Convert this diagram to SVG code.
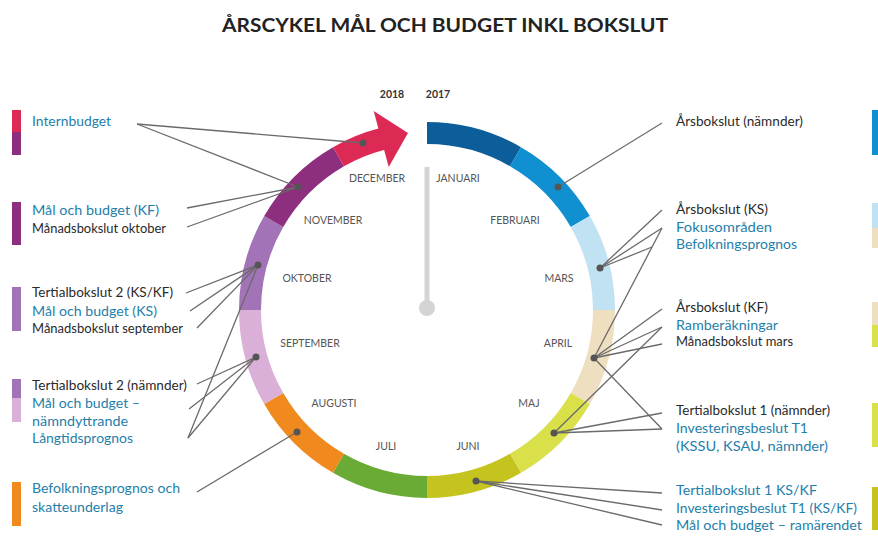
<svg xmlns="http://www.w3.org/2000/svg" width="878" height="538" viewBox="0 0 878 538">
<style>
.seg{fill:none;stroke-width:22}
.mon{font-family:Lato,"Open Sans","Liberation Sans",sans-serif;font-size:10.5px;fill:#555;text-anchor:middle}
.lbl{font-family:Lato,"Open Sans","Liberation Sans",sans-serif;font-size:13px}
.k{fill:#2a2a2a}
.b{fill:#1f80aa}
.yr{font-family:Lato,"Open Sans","Liberation Sans",sans-serif;font-size:10.5px;font-weight:700;fill:#333;text-anchor:middle}
#connectors line{stroke:#6a6a6a;stroke-width:1.3}
.dot{fill:#555}
</style>
<rect width="878" height="538" fill="#fff"/>
<text x="445" y="32" font-family="Lato,'Open Sans','Liberation Sans',sans-serif" font-size="18" font-weight="700" fill="#222" text-anchor="middle" textLength="446" lengthAdjust="spacingAndGlyphs">ÅRSCYKEL MÅL OCH BUDGET INKL BOKSLUT</text>
<text class="yr" x="392" y="98">2018</text>
<text class="yr" x="438" y="98">2017</text>
<g id="pointer">
<rect x="424.5" y="167" width="5" height="140" fill="#d4d4d4"/>
<circle cx="427" cy="308" r="8" fill="#d4d4d4"/>
</g>
<g id="month-jan"><path class="seg" stroke="#0b5e9a" d="M427,133 A177,177 0 0 1 515.5,156.7"/><text class="mon" x="458" y="182">JANUARI</text></g>
<g id="month-feb"><path class="seg" stroke="#1090d0" d="M515.5,156.7 A177,177 0 0 1 580.3,221.5"/><text class="mon" x="515" y="224">FEBRUARI</text></g>
<g id="month-mar"><path class="seg" stroke="#c0e2f2" d="M580.3,221.5 A177,177 0 0 1 604,310"/><text class="mon" x="559" y="282">MARS</text></g>
<g id="month-apr"><path class="seg" stroke="#eedfc0" d="M604,310 A177,177 0 0 1 580.3,398.5"/><text class="mon" x="558" y="347">APRIL</text></g>
<g id="month-maj"><path class="seg" stroke="#d9e04a" d="M580.3,398.5 A177,177 0 0 1 515.5,463.3"/><text class="mon" x="529" y="407">MAJ</text></g>
<g id="month-jun"><path class="seg" stroke="#c5c41f" d="M515.5,463.3 A177,177 0 0 1 427,487"/><text class="mon" x="468" y="450">JUNI</text></g>
<g id="month-jul"><path class="seg" stroke="#6aab35" d="M427,487 A177,177 0 0 1 338.5,463.3"/><text class="mon" x="386" y="450">JULI</text></g>
<g id="month-aug"><path class="seg" stroke="#f08a1f" d="M338.5,463.3 A177,177 0 0 1 273.7,398.5"/><text class="mon" x="334" y="407">AUGUSTI</text></g>
<g id="month-sep"><path class="seg" stroke="#dbb0d8" d="M273.7,398.5 A177,177 0 0 1 250,310"/><text class="mon" x="310" y="347">SEPTEMBER</text></g>
<g id="month-okt"><path class="seg" stroke="#a373b8" d="M250,310 A177,177 0 0 1 273.7,221.5"/><text class="mon" x="307" y="282">OKTOBER</text></g>
<g id="month-nov"><path class="seg" stroke="#8d2f7e" d="M273.7,221.5 A177,177 0 0 1 338.5,156.7"/><text class="mon" x="333" y="224">NOVEMBER</text></g>
<g id="month-dec"><path class="seg" stroke="#dc2a55" d="M338.5,156.7 A177,177 0 0 1 382,139"/><polygon points="373.7,111 408,133 388.7,167" fill="#dc2a55"/><text class="mon" x="377" y="182">DECEMBER</text></g>
<g id="connectors">
<line x1="137" y1="124" x2="363" y2="143"/>
<line x1="137" y1="124" x2="298" y2="187"/>
<line x1="187" y1="208" x2="298" y2="187"/>
<line x1="187" y1="227" x2="298" y2="187"/>
<line x1="186" y1="293" x2="258" y2="265"/>
<line x1="190" y1="311" x2="258" y2="265"/>
<line x1="197" y1="328" x2="258" y2="265"/>
<line x1="188" y1="438" x2="258" y2="265"/>
<line x1="197" y1="384" x2="256" y2="357"/>
<line x1="189" y1="409" x2="256" y2="357"/>
<line x1="188" y1="438" x2="256" y2="357"/>
<line x1="197" y1="492" x2="297" y2="432"/>
<line x1="662" y1="123" x2="558" y2="187"/>
<line x1="662" y1="210" x2="600" y2="268"/>
<line x1="662" y1="228" x2="600" y2="268"/>
<line x1="652" y1="247" x2="600" y2="268"/>
<line x1="662" y1="228" x2="594" y2="358"/>
<line x1="662" y1="309" x2="594" y2="358"/>
<line x1="662" y1="327" x2="594" y2="358"/>
<line x1="662" y1="344" x2="594" y2="358"/>
<line x1="662" y1="429" x2="594" y2="358"/>
<line x1="662" y1="327" x2="554" y2="433"/>
<line x1="662" y1="413" x2="554" y2="433"/>
<line x1="662" y1="429" x2="554" y2="433"/>
<line x1="662" y1="493" x2="476" y2="481"/>
<line x1="662" y1="510" x2="476" y2="481"/>
<line x1="662" y1="525" x2="476" y2="481"/>
<circle class="dot" cx="363" cy="143" r="3.5"/>
<circle class="dot" cx="298" cy="187" r="3.5"/>
<circle class="dot" cx="258" cy="265" r="3.5"/>
<circle class="dot" cx="256" cy="357" r="3.5"/>
<circle class="dot" cx="297" cy="432" r="3.5"/>
<circle class="dot" cx="476" cy="481" r="3.5"/>
<circle class="dot" cx="554" cy="433" r="3.5"/>
<circle class="dot" cx="594" cy="358" r="3.5"/>
<circle class="dot" cx="600" cy="268" r="3.5"/>
<circle class="dot" cx="558" cy="187" r="3.5"/>
</g>
<g id="note-internbudget">
<rect x="12" y="110" width="9" height="22" fill="#dc2a55"/><rect x="12" y="132" width="9" height="23" fill="#8d2f7e"/>
<text class="lbl b" x="32" y="126" textLength="79" lengthAdjust="spacingAndGlyphs">Internbudget</text>
</g>
<g id="note-november">
<rect x="12" y="202" width="9" height="43" fill="#8d2f7e"/>
<text class="lbl b" x="32" y="215" textLength="127" lengthAdjust="spacingAndGlyphs">Mål och budget (KF)</text>
<text class="lbl k" x="32" y="233" textLength="134" lengthAdjust="spacingAndGlyphs">Månadsbokslut oktober</text>
</g>
<g id="note-oktober">
<rect x="12" y="287" width="9" height="44" fill="#a373b8"/>
<text class="lbl k" x="32" y="297" textLength="141" lengthAdjust="spacingAndGlyphs">Tertialbokslut 2 (KS/KF)</text>
<text class="lbl b" x="32" y="316" textLength="125" lengthAdjust="spacingAndGlyphs">Mål och budget (KS)</text>
<text class="lbl k" x="32" y="333" textLength="151" lengthAdjust="spacingAndGlyphs">Månadsbokslut september</text>
</g>
<g id="note-september">
<rect x="12" y="379" width="9" height="19" fill="#a373b8"/><rect x="12" y="398" width="9" height="24" fill="#dbb0d8"/>
<text class="lbl k" x="32" y="390" textLength="155" lengthAdjust="spacingAndGlyphs">Tertialbokslut 2 (nämnder)</text>
<text class="lbl b" x="32" y="408" textLength="108" lengthAdjust="spacingAndGlyphs">Mål och budget –</text>
<text class="lbl b" x="32" y="426" textLength="96" lengthAdjust="spacingAndGlyphs">nämndyttrande</text>
<text class="lbl b" x="32" y="443" textLength="101" lengthAdjust="spacingAndGlyphs">Långtidsprognos</text>
</g>
<g id="note-augusti">
<rect x="12" y="482" width="9" height="44" fill="#f08a1f"/>
<text class="lbl b" x="32" y="493" textLength="148" lengthAdjust="spacingAndGlyphs">Befolkningsprognos och</text>
<text class="lbl b" x="32" y="512" textLength="91" lengthAdjust="spacingAndGlyphs">skatteunderlag</text>
</g>
<g id="note-januari">
<rect x="872" y="110" width="10" height="45" fill="#1090d0"/>
<text class="lbl k" x="676" y="126" textLength="127" lengthAdjust="spacingAndGlyphs">Årsbokslut (nämnder)</text>
</g>
<g id="note-mars">
<rect x="872" y="203" width="10" height="25" fill="#c0e2f2"/><rect x="872" y="228" width="10" height="20" fill="#eedfc0"/>
<text class="lbl k" x="676" y="214" textLength="92" lengthAdjust="spacingAndGlyphs">Årsbokslut (KS)</text>
<text class="lbl b" x="676" y="232" textLength="96" lengthAdjust="spacingAndGlyphs">Fokusområden</text>
<text class="lbl b" x="676" y="249" textLength="121" lengthAdjust="spacingAndGlyphs">Befolkningsprognos</text>
</g>
<g id="note-april">
<rect x="872" y="302" width="10" height="23" fill="#eedfc0"/><rect x="872" y="325" width="10" height="22" fill="#d9e04a"/>
<text class="lbl k" x="676" y="312" textLength="92" lengthAdjust="spacingAndGlyphs">Årsbokslut (KF)</text>
<text class="lbl b" x="676" y="330" textLength="102" lengthAdjust="spacingAndGlyphs">Ramberäkningar</text>
<text class="lbl k" x="676" y="346" textLength="117" lengthAdjust="spacingAndGlyphs">Månadsbokslut mars</text>
</g>
<g id="note-maj">
<rect x="872" y="403" width="10" height="44" fill="#d9e04a"/>
<text class="lbl k" x="676" y="415" textLength="154" lengthAdjust="spacingAndGlyphs">Tertialbokslut 1 (nämnder)</text>
<text class="lbl b" x="676" y="433" textLength="132" lengthAdjust="spacingAndGlyphs">Investeringsbeslut T1</text>
<text class="lbl b" x="676" y="451" textLength="152" lengthAdjust="spacingAndGlyphs">(KSSU, KSAU, nämnder)</text>
</g>
<g id="note-juni">
<rect x="872" y="487" width="10" height="43" fill="#c5c41f"/>
<text class="lbl b" x="676" y="495" textLength="141" lengthAdjust="spacingAndGlyphs">Tertialbokslut 1 KS/KF</text>
<text class="lbl b" x="676" y="513" textLength="181" lengthAdjust="spacingAndGlyphs">Investeringsbeslut T1 (KS/KF)</text>
<text class="lbl b" x="676" y="530" textLength="186" lengthAdjust="spacingAndGlyphs">Mål och budget – ramärendet</text>
</g>
</svg>
